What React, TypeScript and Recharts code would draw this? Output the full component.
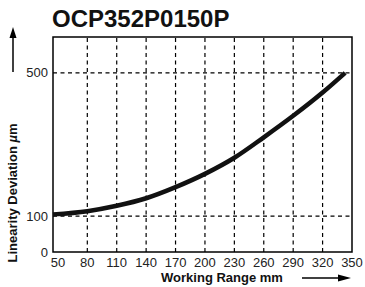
import { LineChart, Line, XAxis, YAxis, ReferenceLine, ReferenceArea } from 'recharts';

const rangeMm = [45, 80, 110, 140, 170, 200, 230, 260, 290, 320, 343];
const deviationUm = [105, 114, 129, 150, 181, 218, 263, 320, 380, 445, 500];

const xTicks = [50, 80, 110, 140, 170, 200, 230, 260, 290, 320, 350];
const yTicks = [0, 100, 500];
const xGrid = [80, 110, 140, 170, 200, 230, 260, 290, 320];
const yGrid = [100, 500];

const data = rangeMm.map((x, i) => ({ x, y: deviationUm[i] }));

const font = '"Liberation Sans", Arial, Helvetica, sans-serif';

export default function App() {
  return (
    <div style={{ position: 'absolute', left: 0, top: 0, width: 365, height: 287, background: '#fff', fontFamily: font }}>
      <LineChart width={365} height={287} data={data} margin={{ top: 37, right: 13, bottom: 0, left: 0 }}>
        <XAxis
          dataKey="x"
          type="number"
          domain={[45, 350]}
          ticks={xTicks}
          axisLine={false}
          tickLine={false}
          tickSize={6}
          tickMargin={0}
          interval={0}
          tick={{ fill: '#222', fontSize: 13, fontFamily: font }}
          height={35}
        />
        <YAxis
          type="number"
          domain={[0, 600]}
          ticks={yTicks}
          axisLine={false}
          tickLine={false}
          tickSize={5}
          tickMargin={0}
          interval={0}
          tick={{ fill: '#222', fontSize: 13, fontFamily: font }}
          width={53}
        />
        {xGrid.map(v => (
          <ReferenceLine key={'x' + v} x={v} stroke="#000" strokeWidth={1.2} strokeDasharray="4 3.5" />
        ))}
        {yGrid.map(v => (
          <ReferenceLine key={'y' + v} y={v} stroke="#000" strokeWidth={1.2} strokeDasharray="4 3.5" />
        ))}
        <Line
          type="monotone"
          dataKey="y"
          stroke="#111"
          strokeWidth={4.5}
          dot={false}
          isAnimationActive={false}
        />
        <ReferenceArea x1={45} x2={350} y1={0} y2={600} fill="none" stroke="#000" strokeWidth={1.5} />
      </LineChart>
      <svg width={365} height={287} style={{ position: 'absolute', left: 0, top: 0, pointerEvents: 'none' }}>
        <text x={52} y={27} fontSize={24} fontWeight="bold" fontFamily={font} fill="#111">
          OCP352P0150P
        </text>
        <text
          x={16.5}
          y={193}
          transform="rotate(-90 16.5 193)"
          textAnchor="middle"
          fontSize={13}
          fontWeight="bold"
          fontFamily={font}
          fill="#111"
        >
          Linearity Deviation <tspan fontStyle="italic">µ</tspan>m
        </text>
        <text x={222} y={282} textAnchor="middle" fontSize={13} fontWeight="bold" fontFamily={font} fill="#111">
          Working Range mm
        </text>
        <line x1={13} y1={72} x2={13} y2={36} stroke="#000" strokeWidth={1.5} />
        <polygon points="13,27 9.5,38 16.5,38" fill="#000" />
        <line x1={302} y1={278} x2={340} y2={278} stroke="#000" strokeWidth={1.5} />
        <polygon points="351,278 338,274.5 338,281.5" fill="#000" />
      </svg>
    </div>
  );
}
